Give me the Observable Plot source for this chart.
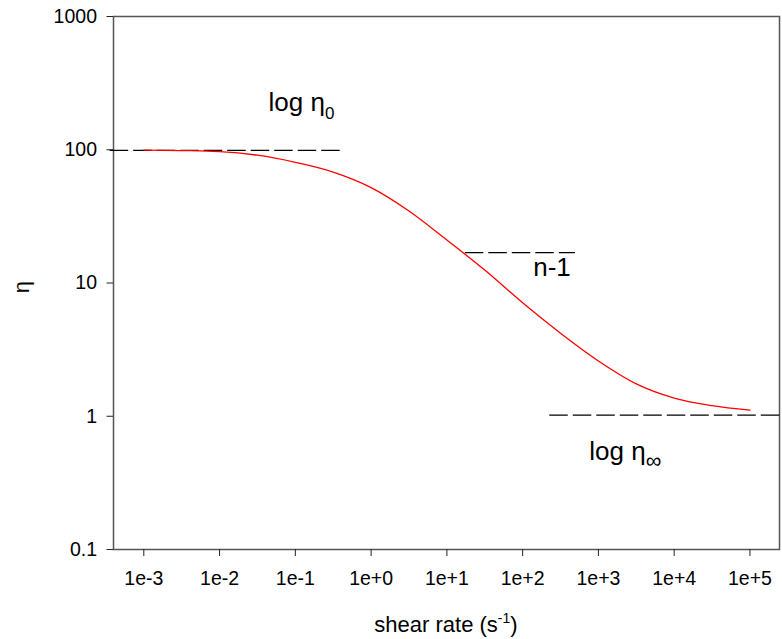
<!DOCTYPE html>
<html><head><meta charset="utf-8">
<script src="https://cdn.jsdelivr.net/npm/d3@7"></script>
<script src="https://cdn.jsdelivr.net/npm/@observablehq/plot@0.6"></script>
<style>body{margin:0;background:#fff}</style>
</head><body><div id="chart"></div>
<script>
// Flow curve
const shearRate = [0.001, 0.00316, 0.01, 0.0316, 0.1, 0.316, 1, 3.16, 10, 31.6, 100, 316, 1000, 3162, 10000, 31623, 100000];
const viscosity = [99.5, 98.6, 96.9, 91, 80.5, 68, 52, 34.7, 21, 12.5, 7.1, 4.2, 2.6, 1.75, 1.37, 1.2, 1.11];

const xTicks = [1e-3, 1e-2, 1e-1, 1e0, 1e1, 1e2, 1e3, 1e4, 1e5];
const xTickLabels = ["1e-3", "1e-2", "1e-1", "1e+0", "1e+1", "1e+2", "1e+3", "1e+4", "1e+5"];
const yTicks = [0.1, 1, 10, 100, 1000];
const yTickLabels = ["0.1", "1", "10", "100", "1000"];

// dashed guide lines
const guideX1 = [0.00036, 17.5, 228];
const guideX2 = [0.40, 498, 260000];
const guideY = [99, 16.9, 1.02];

// annotations
const noteX = [0.045, 140, 769];
const noteY = [195, 11.1, 0.462];
const noteText = ["log η", "n-1", "log η"];
const noteSub = ["0", "", "∞"];

const curve = shearRate.map((x, i) => ({x, y: viscosity[i]}));
const guides = guideX1.map((x1, i) => ({x1, x2: guideX2[i], y: guideY[i]}));

const plot = Plot.plot({
  width: 782, height: 639,
  marginLeft: 113, marginRight: 3, marginTop: 16, marginBottom: 90,
  style: {fontFamily: "'Liberation Sans', Arial, sans-serif", fontSize: "19.5px", color: "#000", background: "#fff"},
  x: {type: "log", domain: [Math.pow(10, -3.40), Math.pow(10, 5.39)]},
  y: {type: "log", domain: [0.1, 1000]},
  marks: [
    Plot.frame({stroke: "#555", strokeWidth: 1.5}),
    Plot.axisX({ticks: xTicks, tickFormat: d => xTickLabels[xTicks.indexOf(d)], tickSize: 7, tickPadding: 15, fontSize: 19.5, label: null, stroke: "#222"}),
    Plot.axisY({ticks: yTicks, tickFormat: d => yTickLabels[yTicks.indexOf(d)], tickSize: 6.5, tickPadding: 10, fontSize: 19.5, label: null, stroke: "#222"}),
    Plot.ruleY(guides, {x1: "x1", x2: "x2", y: "y", stroke: "#000", strokeWidth: 1.2, strokeDasharray: "18.5,5"}),
    Plot.line(curve, {x: "x", y: "y", stroke: "#ff0000", strokeWidth: 1.3, curve: "monotone-x"})
  ]
});
document.getElementById("chart").appendChild(plot);

const svg = d3.select(plot);
const sx = plot.scale("x"), sy = plot.scale("y");
noteText.forEach((t, i) => {
  const g = svg.append("text")
    .attr("x", sx.apply(noteX[i])).attr("y", sy.apply(noteY[i]))
    .attr("text-anchor", "start")
    .attr("font-size", 26).attr("fill", "#000");
  g.append("tspan").text(t);
  if (noteSub[i]) {
    g.append("tspan").attr("dy", 8).attr("font-size", noteSub[i] === "∞" ? 22 : 17).text(noteSub[i]);
  }
});

// axis titles
const xt = svg.append("text").attr("x", 446).attr("y", 632).attr("text-anchor", "middle").attr("font-size", 22).attr("fill", "#000");
xt.append("tspan").text("shear rate (s");
xt.append("tspan").attr("dy", -9).attr("font-size", 14).text("-1");
xt.append("tspan").attr("dy", 9).text(")");

svg.append("text").attr("transform", "translate(29,287) rotate(-90)").attr("text-anchor", "middle")
  .attr("font-size", 22).attr("fill", "#000").text("η");
</script>
</body></html>
